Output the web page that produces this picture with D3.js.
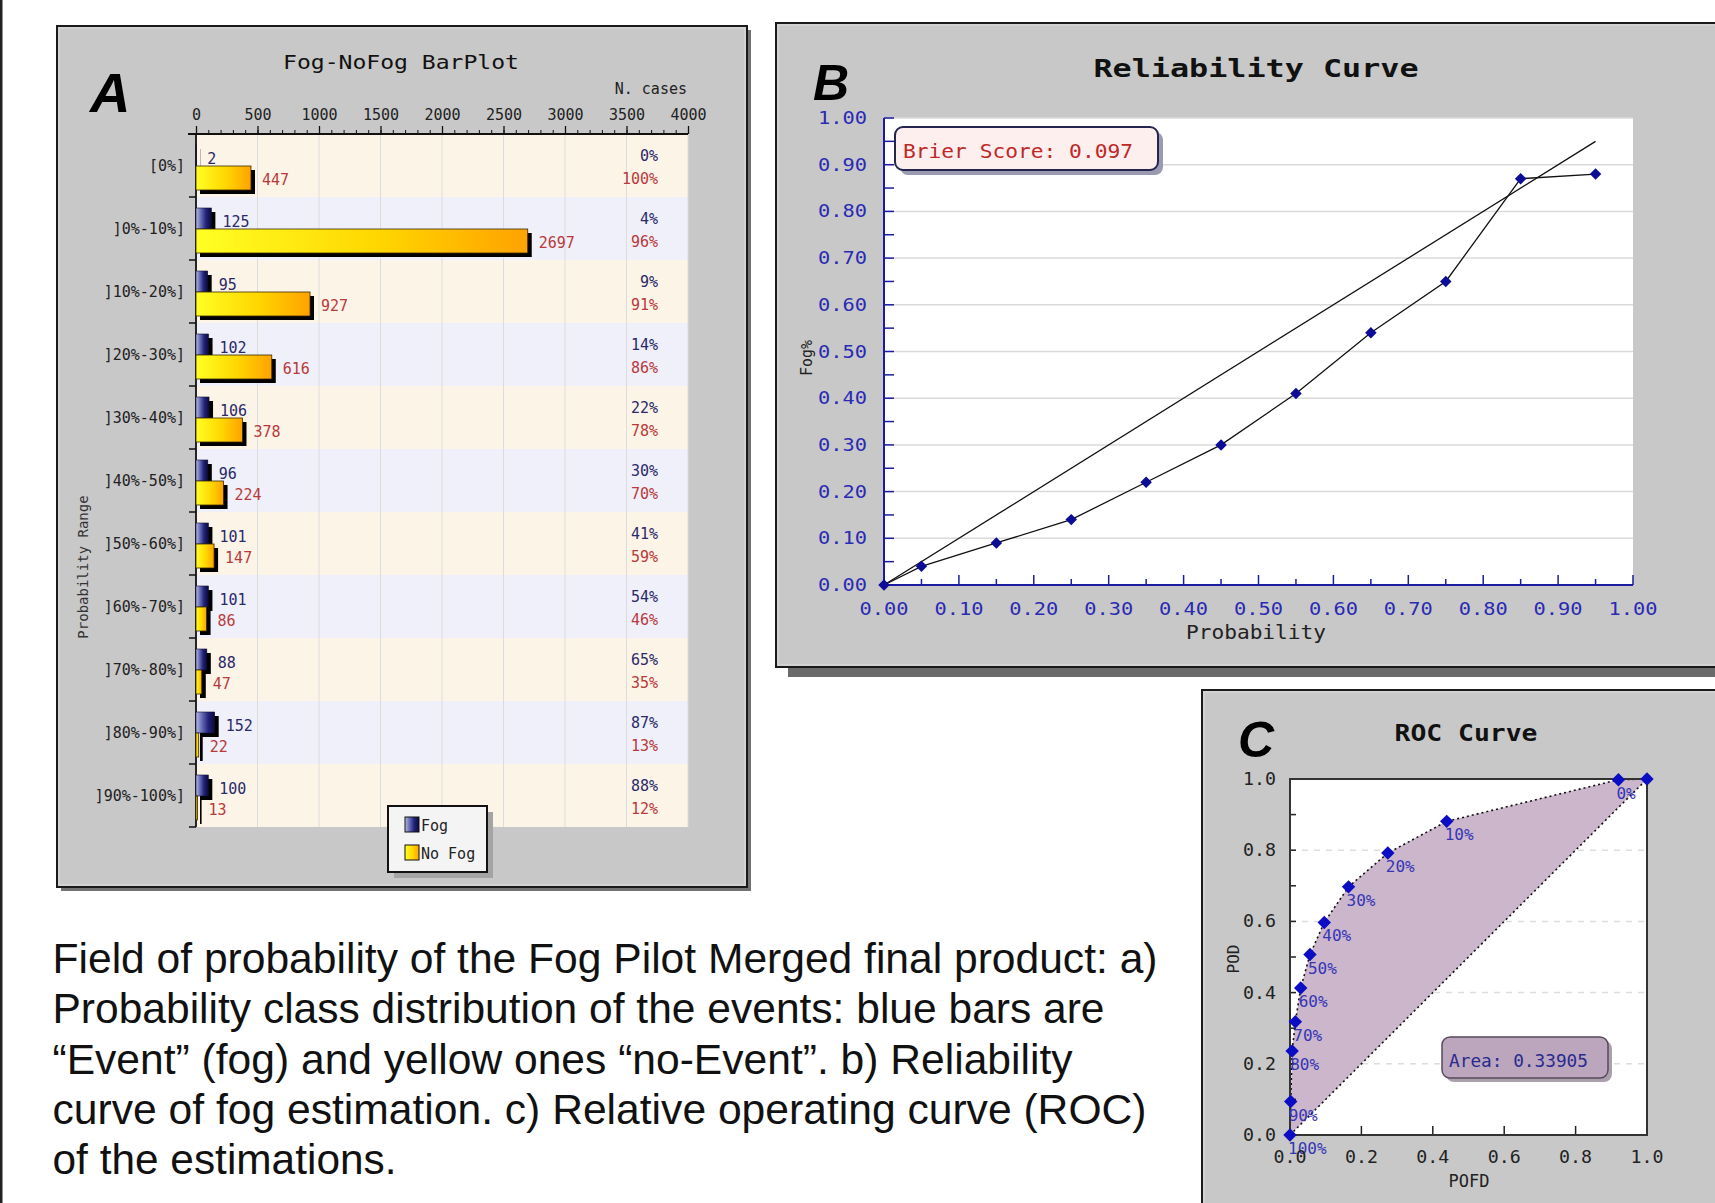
<!DOCTYPE html>
<html><head><meta charset="utf-8">
<script src="https://cdn.jsdelivr.net/npm/d3@7"></script>
<style>body{margin:0;background:#fff}svg{display:block}</style>
</head><body>
<svg id="c" width="1715" height="1203"></svg>
<script>
// ---------- DATA ----------
const categories = ["[0%]","]0%-10%]","]10%-20%]","]20%-30%]","]30%-40%]","]40%-50%]","]50%-60%]","]60%-70%]","]70%-80%]","]80%-90%]","]90%-100%]"];
const fogCounts   = [2,125,95,102,106,96,101,101,88,152,100];
const noFogCounts = [447,2697,927,616,378,224,147,86,47,22,13];
const fogPct   = ["0%","4%","9%","14%","22%","30%","41%","54%","65%","87%","88%"];
const noFogPct = ["100%","96%","91%","86%","78%","70%","59%","46%","35%","13%","12%"];
const barTicks = [0,500,1000,1500,2000,2500,3000,3500,4000];

const relProb = [0,0.05,0.15,0.25,0.35,0.45,0.55,0.65,0.75,0.85,0.95];
const relFreq = [0,0.04,0.09,0.14,0.22,0.30,0.41,0.54,0.65,0.87,0.88];
const relDiag = [0,0.95];
const relTicks = [0,0.1,0.2,0.3,0.4,0.5,0.6,0.7,0.8,0.9,1.0];
const relTickLabels = ["0.00","0.10","0.20","0.30","0.40","0.50","0.60","0.70","0.80","0.90","1.00"];
const brierText = "Brier Score: 0.097";

const rocPOFD = [0,0.002,0.006,0.015,0.030,0.056,0.096,0.164,0.274,0.439,0.920,1.0];
const rocPOD  = [0,0.094,0.236,0.318,0.413,0.507,0.597,0.697,0.792,0.881,0.998,1.0];
const rocLabels = ["100%","90%","80%","70%","60%","50%","40%","30%","20%","10%","0%",""];
const rocTicks = [0,0.2,0.4,0.6,0.8,1.0];
const rocTickLabels = ["0.0","0.2","0.4","0.6","0.8","1.0"];
const areaText = "Area: 0.33905";

const captionLines = [
  "Field of probability of the Fog Pilot Merged final product: a)",
  "Probability class distribution of the events: blue bars are",
  "\u201CEvent\u201D (fog) and yellow ones \u201Cno-Event\u201D. b) Reliability",
  "curve of fog estimation. c) Relative operating curve (ROC)",
  "of the estimations."
];
const captionWidths = [1105,1052,1020,1094,344];

// ---------- SETUP ----------
const MONO = "'DejaVu Sans Mono', monospace";
const SANS = "'Liberation Sans', Arial, sans-serif";
const svg = d3.select("#c");
svg.append("rect").attr("width",1715).attr("height",1203).attr("fill","#fff");
const defs = svg.append("defs");
function grad(id, stops){
  const g = defs.append("linearGradient").attr("id",id).attr("x1",0).attr("x2",1).attr("y1",0).attr("y2",0);
  stops.forEach(([o,c])=>g.append("stop").attr("offset",o).attr("stop-color",c));
}
grad("gBlue",[[0,"#b8bce2"],[0.3,"#6a70b6"],[0.65,"#22227a"],[1,"#0a0a3a"]]);
grad("gYel",[[0,"#ffff24"],[0.55,"#ffd600"],[1,"#ffa200"]]);

// left border of the whole figure
svg.append("rect").attr("x",0).attr("y",0).attr("width",2.5).attr("height",1203).attr("fill","#222");

function panelFrame(x,y,w,h){
  svg.append("rect").attr("x",x).attr("y",y).attr("width",w).attr("height",h)
    .attr("fill","#c8c8c8").attr("stroke","#1a1a1a").attr("stroke-width",2);
  svg.append("rect").attr("x",x+2).attr("y",y+2).attr("width",w-4).attr("height",h-4)
    .attr("fill","none").attr("stroke","#dcdcdc").attr("stroke-width",1);
}
function txt(g,x,y,s,opt){
  const t = g.append("text").attr("x",x).attr("y",y).text(s)
    .attr("font-family",opt.family||MONO).attr("font-size",opt.size||15)
    .attr("fill",opt.fill||"#222").attr("text-anchor",opt.anchor||"start");
  if(opt.weight) t.attr("font-weight",opt.weight);
  if(opt.style) t.attr("font-style",opt.style);
  if(opt.len) t.attr("textLength",opt.len).attr("lengthAdjust","spacingAndGlyphs");
  if(opt.rotate) t.attr("transform",`rotate(${opt.rotate},${x},${y})`);
  return t;
}

// ================= PANEL A =================
svg.append("rect").attr("x",61).attr("y",30).attr("width",690).attr("height",861).attr("fill","#737373");
panelFrame(57,26,690,861);
const gA = svg.append("g");
const xA = d3.scaleLinear().domain([0,4000]).range([196,688]);
const yA = d3.scaleBand().domain(categories).range([134,827]);
const bw = yA.bandwidth();

gA.selectAll("rect.band").data(categories).join("rect")
  .attr("x",xA(0)).attr("y",d=>yA(d)).attr("width",xA(4000)-xA(0)).attr("height",bw)
  .attr("fill",(d,i)=>i%2===0?"#fdf4e8":"#eff0fa");
gA.selectAll("line.grid").data(barTicks.slice(1)).join("line")
  .attr("x1",d=>xA(d)).attr("x2",d=>xA(d)).attr("y1",134).attr("y2",827)
  .attr("stroke","#dcdcdc").attr("stroke-width",1);

// x axis (top)
const axA = gA.append("g").attr("transform","translate(0,134)")
  .call(d3.axisTop(xA).tickValues(barTicks).tickFormat(d3.format("d")).tickSize(8).tickSizeOuter(0).tickPadding(6));
axA.select(".domain").remove();
axA.selectAll("line").attr("stroke","#111").attr("stroke-width",1.3);
axA.selectAll("text").attr("font-family",MONO).attr("font-size",15).attr("fill","#222");
const axA2 = gA.append("g").attr("transform","translate(0,134)")
  .call(d3.axisTop(xA).tickValues(d3.range(0,4001,100)).tickSize(4).tickFormat(""));
axA2.select(".domain").remove();
axA2.selectAll("line").attr("stroke","#111").attr("stroke-width",1);
gA.append("line").attr("x1",188).attr("x2",xA(4000)).attr("y1",134).attr("y2",134).attr("stroke","#111").attr("stroke-width",1.8);
gA.append("line").attr("x1",xA(0)).attr("x2",xA(0)).attr("y1",134).attr("y2",827).attr("stroke","#111").attr("stroke-width",1.8);
const bounds = categories.map(c=>yA(c)).concat([yA(categories[categories.length-1])+bw]);
gA.selectAll("line.bt").data(bounds.slice(1)).join("line")
  .attr("x1",189).attr("x2",xA(0)).attr("y1",d=>d).attr("y2",d=>d)
  .attr("stroke","#111").attr("stroke-width",1.5);

// row labels
categories.forEach(c=>txt(gA,185,yA(c)+bw/2+5,c,{size:15,fill:"#222",anchor:"end"}));

// bars
const rows = categories.map((c,i)=>({c,i,f:fogCounts[i],n:noFogCounts[i]}));
gA.selectAll("rect.bsh").data(rows).join("rect")
  .attr("x",xA(0)+4).attr("y",d=>yA(d.c)+15).attr("width",d=>xA(d.f)-xA(0)).attr("height",21).attr("fill","#000");
gA.selectAll("rect.bl").data(rows).join("rect")
  .attr("x",xA(0)).attr("y",d=>yA(d.c)+11).attr("width",d=>xA(d.f)-xA(0)).attr("height",21)
  .attr("fill","url(#gBlue)").attr("stroke","#101030").attr("stroke-width",0.6);
gA.selectAll("rect.ysh").data(rows).join("rect")
  .attr("x",xA(0)+4).attr("y",d=>yA(d.c)+36).attr("width",d=>xA(d.n)-xA(0)).attr("height",24).attr("fill","#000");
gA.selectAll("rect.ye").data(rows).join("rect")
  .attr("x",xA(0)).attr("y",d=>yA(d.c)+32).attr("width",d=>xA(d.n)-xA(0)).attr("height",24)
  .attr("fill","url(#gYel)").attr("stroke","#3a2a00").attr("stroke-width",0.8);

rows.forEach(d=>{
  const R = yA(d.c);
  txt(gA,xA(d.f)+11,R+30,String(d.f),{size:15,fill:"#2a2a6a"});
  txt(gA,xA(d.n)+11,R+51,String(d.n),{size:15,fill:"#b83a3a"});
  txt(gA,658,R+27,fogPct[d.i],{size:15,fill:"#2a2a6a",anchor:"end"});
  txt(gA,658,R+50,noFogPct[d.i],{size:15,fill:"#b83a3a",anchor:"end"});
});

txt(gA,401,69,"Fog-NoFog BarPlot",{size:20,fill:"#111",anchor:"middle",len:236});
txt(gA,687,94,"N. cases",{size:15,fill:"#222",anchor:"end"});
txt(gA,90,112,"A",{family:SANS,size:56,weight:"bold",style:"italic",fill:"#000"});
txt(gA,88,567,"Probability Range",{size:14,fill:"#333",anchor:"middle",rotate:-90});

// legend
gA.append("rect").attr("x",394).attr("y",812).attr("width",99).attr("height",66).attr("fill","#a4a4a4");
gA.append("rect").attr("x",388).attr("y",806).attr("width",99).attr("height",66)
  .attr("fill","#f4f4f4").attr("stroke","#111").attr("stroke-width",2);
gA.append("rect").attr("x",405).attr("y",817).attr("width",14).attr("height",15)
  .attr("fill","url(#gBlue)").attr("stroke","#111").attr("stroke-width",1);
gA.append("rect").attr("x",405).attr("y",845).attr("width",14).attr("height",15)
  .attr("fill","url(#gYel)").attr("stroke","#111").attr("stroke-width",1);
txt(gA,421,831,"Fog",{size:15,fill:"#222"});
txt(gA,421,859,"No Fog",{size:15,fill:"#222"});

// ================= PANEL B =================
svg.append("rect").attr("x",788).attr("y",667).attr("width",1000).attr("height",10).attr("fill","#6a6a6a");
panelFrame(776,23,1000,644);
const gB = svg.append("g");
const xB = d3.scaleLinear().domain([0,1]).range([884,1633]);
const yB = d3.scaleLinear().domain([0,1]).range([585,118]);
gB.append("rect").attr("x",xB(0)).attr("y",yB(1)).attr("width",xB(1)-xB(0)).attr("height",yB(0)-yB(1)).attr("fill","#fff");
gB.selectAll("line.g").data(relTicks.slice(1)).join("line")
  .attr("x1",xB(0)).attr("x2",xB(1)).attr("y1",d=>yB(d)).attr("y2",d=>yB(d))
  .attr("stroke","#dadada").attr("stroke-width",1.5);
const halfB = d3.range(0,21).map(k=>k/20);
gB.selectAll("line.yt").data(halfB).join("line")
  .attr("x1",xB(0)).attr("x2",xB(0)+10).attr("y1",d=>yB(d)).attr("y2",d=>yB(d))
  .attr("stroke","#1c1ca0").attr("stroke-width",1.5);
gB.selectAll("line.xt").data(halfB.slice(1)).join("line")
  .attr("x1",d=>xB(d)).attr("x2",d=>xB(d)).attr("y1",yB(0)).attr("y2",(d,i)=>yB(0)-(i%2===1?10:6))
  .attr("stroke","#1c1ca0").attr("stroke-width",1.5);
gB.append("line").attr("x1",xB(0)).attr("x2",xB(0)).attr("y1",yB(1)).attr("y2",yB(0)).attr("stroke","#1c1ca0").attr("stroke-width",2);
gB.append("line").attr("x1",xB(0)).attr("x2",xB(1)).attr("y1",yB(0)).attr("y2",yB(0)).attr("stroke","#1c1ca0").attr("stroke-width",2);
relTicks.forEach((t,i)=>{
  txt(gB,867,yB(t)+6,relTickLabels[i],{size:17,fill:"#2a2ab4",anchor:"end",len:49});
  txt(gB,xB(t),615,relTickLabels[i],{size:17,fill:"#2a2ab4",anchor:"middle",len:49});
});
// diagonal & curve
gB.append("path").attr("d",d3.line()(relDiag.map(v=>[xB(v),yB(v)])))
  .attr("fill","none").attr("stroke","#111").attr("stroke-width",1.3);
gB.append("path").attr("d",d3.line()(relProb.map((p,i)=>[xB(p),yB(relFreq[i])])))
  .attr("fill","none").attr("stroke","#111").attr("stroke-width",1.3);
gB.selectAll("path.m").data(relProb).join("path")
  .attr("d",d3.symbol(d3.symbolSquare,66)())
  .attr("transform",(p,i)=>`translate(${xB(p)},${yB(relFreq[i])}) rotate(45)`)
  .attr("fill","#0c0c96");
// brier box
gB.append("rect").attr("x",900).attr("y",132).attr("width",263).attr("height",43).attr("rx",8).attr("fill","#9a9ab0");
gB.append("rect").attr("x",895).attr("y",127).attr("width",263).attr("height",43).attr("rx",8)
  .attr("fill","#fdefee").attr("stroke","#25254f").attr("stroke-width",2);
txt(gB,903,158,brierText,{size:20,fill:"#c02828",len:230});
txt(gB,1256,77,"Reliability Curve",{size:25,weight:"bold",fill:"#111",anchor:"middle",len:325});
txt(gB,813,100,"B",{family:SANS,size:50,weight:"bold",style:"italic",fill:"#000"});
txt(gB,1256,639,"Probability",{size:19,fill:"#222",anchor:"middle",len:140});
txt(gB,812,358,"Fog%",{size:15,fill:"#222",anchor:"middle",rotate:-90});

// ================= PANEL C =================
panelFrame(1202,690,600,600);
const gC = svg.append("g");
const xC = d3.scaleLinear().domain([0,1]).range([1290,1647]);
const yC = d3.scaleLinear().domain([0,1]).range([1135,779]);
gC.append("rect").attr("x",xC(0)).attr("y",yC(1)).attr("width",xC(1)-xC(0)).attr("height",yC(0)-yC(1)).attr("fill","#fff");
gC.selectAll("line.g").data(rocTicks.slice(1,-1)).join("line")
  .attr("x1",xC(0)).attr("x2",xC(1)).attr("y1",d=>yC(d)).attr("y2",d=>yC(d))
  .attr("stroke","#dedede").attr("stroke-width",1.5).attr("stroke-dasharray","6,6");
const rocPts = rocPOFD.map((x,i)=>[xC(x),yC(rocPOD[i])]);
gC.append("path").attr("d",d3.line()(rocPts)+"Z").attr("fill","#cbb6cc");
gC.append("path").attr("d",d3.line()(rocPts))
  .attr("fill","none").attr("stroke","#111").attr("stroke-width",1.6).attr("stroke-dasharray","2,3");
gC.append("path").attr("d",d3.line()([[xC(0),yC(0)],[xC(1),yC(1)]]))
  .attr("fill","none").attr("stroke","#111").attr("stroke-width",1.6).attr("stroke-dasharray","2,3");
// ticks
gC.selectAll("line.yt").data(d3.range(1,10).map(k=>k/10)).join("line")
  .attr("x1",xC(0)).attr("x2",xC(0)+6).attr("y1",d=>yC(d)).attr("y2",d=>yC(d))
  .attr("stroke","#222").attr("stroke-width",1.5);
gC.selectAll("line.xt").data(rocTicks.slice(1,-1)).join("line")
  .attr("x1",d=>xC(d)).attr("x2",d=>xC(d)).attr("y1",yC(0)).attr("y2",yC(0)-9)
  .attr("stroke","#222").attr("stroke-width",1.5);
gC.append("rect").attr("x",xC(0)).attr("y",yC(1)).attr("width",xC(1)-xC(0)).attr("height",yC(0)-yC(1))
  .attr("fill","none").attr("stroke","#333").attr("stroke-width",2);
// markers and labels
gC.selectAll("path.m").data(rocPts).join("path")
  .attr("d",d3.symbol(d3.symbolSquare,90)())
  .attr("transform",d=>`translate(${d[0]},${d[1]}) rotate(45)`)
  .attr("fill","#0c0cc4");
rocPts.forEach((p,i)=>{ if(rocLabels[i]) txt(gC,p[0]-2,p[1]+19,rocLabels[i],{size:16,fill:"#3535b5"}); });
rocTicks.forEach((t,i)=>{
  txt(gC,1276,yC(t)+6,rocTickLabels[i],{size:17,fill:"#222",anchor:"end",len:33});
  txt(gC,xC(t),1163,rocTickLabels[i],{size:17,fill:"#222",anchor:"middle",len:33});
});
// area box
gC.append("rect").attr("x",1446).attr("y",1041).attr("width",166).attr("height",41).attr("rx",8).attr("fill","#a9a0ac");
gC.append("rect").attr("x",1442).attr("y",1037).attr("width",166).attr("height",41).attr("rx",8)
  .attr("fill","#bba6bd").attr("stroke","#5a4a5c").attr("stroke-width",1.5);
txt(gC,1449,1067,areaText,{size:17,fill:"#2a2a90",len:139});
txt(gC,1466,741,"ROC Curve",{size:23,weight:"bold",fill:"#111",anchor:"middle",len:143});
txt(gC,1238,757,"C",{family:SANS,size:50,weight:"bold",style:"italic",fill:"#000"});
txt(gC,1239,959,"POD",{size:16,fill:"#222",anchor:"middle",rotate:-90});
txt(gC,1469,1187,"POFD",{size:17,fill:"#222",anchor:"middle"});

// ================= CAPTION =================
const gT = svg.append("g");
captionLines.forEach((s,i)=>txt(gT,52.5,973+i*50.3,s,{family:SANS,size:42,fill:"#111",len:captionWidths[i]}));
</script>
</body></html>
